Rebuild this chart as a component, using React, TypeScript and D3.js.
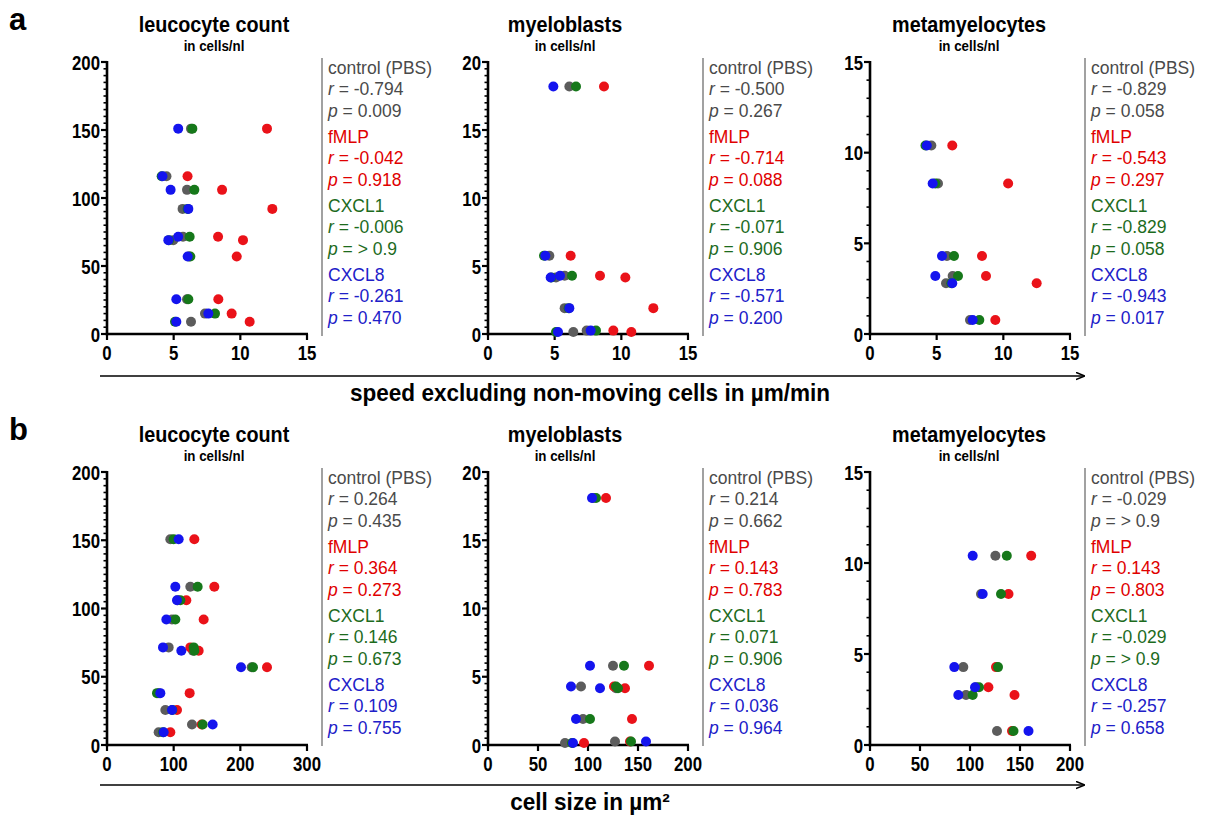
import React from "react";
import * as d3 from "d3";

// ---------- data ----------
const groupNames = ["control (PBS)", "fMLP", "CXCL1", "CXCL8"];
const dotColors = ["#5c5c5c", "#ea1219", "#16781a", "#1414ee"];
const textColors = ["#4a4a4a", "#e00000", "#1d6b1d", "#2020c8"];

// row a: speed excluding non-moving cells (µm/min)
const leucoA = [151, 116, 106, 92, 71.5, 69, 57, 25.5, 15, 9];
const leucoA_control = [6.3, 4.46, 6.0, 5.67, 5.7, 4.97, 6.15, 6.0, 7.35, 6.3];
const leucoA_fMLP = [12.0, 6.04, 8.63, 12.4, 8.33, 10.2, 9.73, 8.35, 9.35, 10.7];
const leucoA_CXCL1 = [6.4, 4.1, 6.55, 6.05, 6.2, 4.65, 6.25, 6.1, 8.1, 5.1];
const leucoA_CXCL8 = [5.34, 4.16, 4.77, 6.1, 5.34, 4.6, 6.05, 5.2, 7.6, 5.2];

const myeloA = [18.2, 5.75, 4.28, 4.16, 1.9, 0.25, 0.15];
const myeloA_control = [6.1, 4.6, 5.75, 5.1, 5.75, 7.4, 6.4];
const myeloA_fMLP = [8.7, 6.2, 8.4, 10.3, 12.4, 9.4, 10.75];
const myeloA_CXCL1 = [6.6, 4.2, 6.3, 4.75, 6.05, 8.1, 5.1];
const myeloA_CXCL8 = [4.9, 4.3, 5.4, 4.7, 6.1, 7.7, 5.25];

const metaA = [10.4, 8.3, 4.3, 3.2, 2.8, 0.77];
const metaA_control = [4.6, 5.1, 5.77, 6.2, 5.7, 7.5];
const metaA_fMLP = [6.17, 10.36, 8.4, 8.7, 12.5, 9.4];
const metaA_CXCL1 = [4.16, 4.9, 6.3, 6.6, 6.1, 8.2];
const metaA_CXCL8 = [4.26, 4.7, 5.4, 4.9, 6.17, 7.7];

// row b: cell size (µm²)
const leucoB = [150.7, 115.9, 106, 92, 71.5, 69, 57, 38, 25.6, 15, 9.3];
const leucoB_control = [95, 125, 106, 97.5, 92.5, 129, 217, 78, 87.5, 127.5, 77.5];
const leucoB_fMLP = [131, 161, 119, 145, 125, 137.5, 240, 124, 105, 142, 95];
const leucoB_CXCL1 = [100, 136, 110, 102.5, 130, 131, 219, 75, 98, 143.5, 84];
const leucoB_CXCL8 = [107.5, 102.5, 105, 89, 84, 111.5, 201, 80, 97.5, 158.5, 85];

const myeloB = [18.1, 5.8, 4.28, 4.16, 1.9, 0.25, 0.15];
const myeloB_control = [105, 125, 93, 128, 95, 127, 77];
const myeloB_fMLP = [118, 161, 126, 137, 144, 142, 96];
const myeloB_CXCL1 = [108, 136, 128, 130, 102, 143, 84];
const myeloB_CXCL8 = [104, 102, 83, 112, 88, 158, 85];

const metaB = [10.4, 8.3, 4.28, 3.17, 2.75, 0.77];
const metaB_control = [125.4, 111, 93.3, 106, 96, 127];
const metaB_fMLP = [161.2, 138.5, 126, 118.4, 144.5, 142];
const metaB_CXCL1 = [136.8, 131, 128, 109, 102.7, 143.5];
const metaB_CXCL8 = [102.7, 112.7, 84.3, 105, 88.3, 158.5];

// correlation statistics [r, p] per group
const statsLeucoA = [["-0.794", "0.009"], ["-0.042", "0.918"], ["-0.006", "> 0.9"], ["-0.261", "0.470"]];
const statsMyeloA = [["-0.500", "0.267"], ["-0.714", "0.088"], ["-0.071", "0.906"], ["-0.571", "0.200"]];
const statsMetaA = [["-0.829", "0.058"], ["-0.543", "0.297"], ["-0.829", "0.058"], ["-0.943", "0.017"]];
const statsLeucoB = [["0.264", "0.435"], ["0.364", "0.273"], ["0.146", "0.673"], ["0.109", "0.755"]];
const statsMyeloB = [["0.214", "0.662"], ["0.143", "0.783"], ["0.071", "0.906"], ["0.036", "0.964"]];
const statsMetaB = [["-0.029", "> 0.9"], ["0.143", "0.803"], ["-0.029", "> 0.9"], ["-0.257", "0.658"]];

const titles = ["leucocyte count", "myeloblasts", "metamyelocytes"];
const subtitle = "in cells/nl";
const rowLabels = ["a", "b"];
const rowAxisLabels = ["speed excluding non-moving cells in µm/min", "cell size in µm²"];

// ---------- layout ----------
const W = 1206;
const H = 816;
const colX = [107, 488, 870];
const titleCX = [214, 565, 969];
const plotW = 200;
const rowTop = [62, 472];
const rowBottom = [334, 745];
const rowShift = [0, 410];

const sans = "'Liberation Sans', Arial, sans-serif";

type Panel = {
  row: number;
  col: number;
  yMax: number;
  yMajor: number;
  yMinor: number;
  xMax: number;
  xMajor: number;
  cnt: number[];
  xs: number[][];
  stats: string[][];
};

const panels: Panel[] = [
  { row: 0, col: 0, yMax: 200, yMajor: 50, yMinor: 5, xMax: 15, xMajor: 5, cnt: leucoA,
    xs: [leucoA_control, leucoA_fMLP, leucoA_CXCL1, leucoA_CXCL8], stats: statsLeucoA },
  { row: 0, col: 1, yMax: 20, yMajor: 5, yMinor: 0.5, xMax: 15, xMajor: 5, cnt: myeloA,
    xs: [myeloA_control, myeloA_fMLP, myeloA_CXCL1, myeloA_CXCL8], stats: statsMyeloA },
  { row: 0, col: 2, yMax: 15, yMajor: 5, yMinor: 1, xMax: 15, xMajor: 5, cnt: metaA,
    xs: [metaA_control, metaA_fMLP, metaA_CXCL1, metaA_CXCL8], stats: statsMetaA },
  { row: 1, col: 0, yMax: 200, yMajor: 50, yMinor: 5, xMax: 300, xMajor: 100, cnt: leucoB,
    xs: [leucoB_control, leucoB_fMLP, leucoB_CXCL1, leucoB_CXCL8], stats: statsLeucoB },
  { row: 1, col: 1, yMax: 20, yMajor: 5, yMinor: 0.5, xMax: 200, xMajor: 50, cnt: myeloB,
    xs: [myeloB_control, myeloB_fMLP, myeloB_CXCL1, myeloB_CXCL8], stats: statsMyeloB },
  { row: 1, col: 2, yMax: 15, yMajor: 5, yMinor: 1, xMax: 200, xMajor: 50, cnt: metaB,
    xs: [metaB_control, metaB_fMLP, metaB_CXCL1, metaB_CXCL8], stats: statsMetaB },
];

// condensed bold text (narrow font emulated by horizontal scaling)
function CText(props: {
  x: number; y: number; size: number; sx: number; anchor?: string; children: React.ReactNode;
}) {
  const { x, y, size, sx, anchor, children } = props;
  return (
    <text
      transform={`translate(${x},${y}) scale(${sx},1)`}
      textAnchor={anchor || "start"}
      fontFamily={sans}
      fontWeight="bold"
      fontSize={size}
      fill="#000"
    >
      {children}
    </text>
  );
}

function PanelView({ p }: { p: Panel }) {
  const x0 = colX[p.col];
  const top = rowTop[p.row];
  const bottom = rowBottom[p.row];
  const x = d3.scaleLinear().domain([0, p.xMax]).range([x0, x0 + plotW]);
  const y = d3.scaleLinear().domain([0, p.yMax]).range([bottom, top]);
  const yMajors = d3.range(0, p.yMax + 1e-9, p.yMajor);
  const yMinors = d3.range(0, p.yMax + 1e-9, p.yMinor).filter(
    (v) => Math.abs(v / p.yMajor - Math.round(v / p.yMajor)) > 1e-6
  );
  const xMajors = d3.range(0, p.xMax + 1e-9, p.xMajor);
  const legX = x0 + 215;
  const shift = rowShift[p.row];
  const groupStart = [68, 137, 206, 275];
  return (
    <g>
      {/* axes */}
      <line x1={x0} x2={x0} y1={top - 1} y2={bottom + 1.2} stroke="#000" strokeWidth={2.6} />
      <line x1={x0 - 1.2} x2={x0 + plotW + 1} y1={bottom} y2={bottom} stroke="#000" strokeWidth={2.6} />
      {yMajors.map((v) => (
        <g key={"ym" + v}>
          <line x1={x0 - 6} x2={x0} y1={y(v)} y2={y(v)} stroke="#000" strokeWidth={2.2} />
          <CText x={x0 - 7} y={y(v) + 7.5} size={21} sx={0.8} anchor="end">
            {String(v)}
          </CText>
        </g>
      ))}
      {yMinors.map((v) => (
        <line key={"yn" + v} x1={x0 - 3.5} x2={x0} y1={y(v)} y2={y(v)} stroke="#000" strokeWidth={1.6} />
      ))}
      {xMajors.map((v) => (
        <g key={"xm" + v}>
          <line x1={x(v)} x2={x(v)} y1={bottom} y2={bottom + 6} stroke="#000" strokeWidth={2.2} />
          <CText x={x(v)} y={bottom + 26} size={21} sx={0.8} anchor="middle">
            {String(v)}
          </CText>
        </g>
      ))}
      {/* points: grey, red, green, blue */}
      {p.xs.map((vals, gi) => (
        <g key={"g" + gi}>
          {vals.map((v, i) => (
            <circle key={i} cx={x(v)} cy={y(p.cnt[i])} r={5} fill={dotColors[gi]} />
          ))}
        </g>
      ))}
      {/* legend */}
      <line x1={legX} x2={legX} y1={58 + shift} y2={336 + shift} stroke="#8a8a8a" strokeWidth={1.6} />
      {groupNames.map((name, gi) => {
        const c = groupStart[gi] + shift;
        return (
          <g key={"l" + gi} fill={textColors[gi]} fontFamily={sans} fontSize={17.5}>
            <text x={legX + 6} y={c + 6}>{name}</text>
            <text x={legX + 6} y={c + 27}>
              <tspan fontStyle="italic">r</tspan>
              {" = " + p.stats[gi][0]}
            </text>
            <text x={legX + 6} y={c + 49}>
              <tspan fontStyle="italic">p</tspan>
              {" = " + p.stats[gi][1]}
            </text>
          </g>
        );
      })}
      {/* title */}
      <CText x={titleCX[p.col]} y={32 + shift} size={22} sx={0.9} anchor="middle">
        {titles[p.col]}
      </CText>
      <CText x={titleCX[p.col]} y={51 + shift} size={14.5} sx={0.92} anchor="middle">
        {subtitle}
      </CText>
    </g>
  );
}

export default function App() {
  const arrowY = [376, 785];
  return (
    <svg
      width={W}
      height={H}
      viewBox={`0 0 ${W} ${H}`}
      style={{ position: "absolute", left: 0, top: 0, background: "#fff" }}
    >
      <defs>
        <marker id="arrowHead" viewBox="0 0 10 10" refX="9" refY="5" markerWidth="9" markerHeight="9" orient="auto" markerUnits="userSpaceOnUse">
          <path d="M0,1 L10,5 L0,9" fill="none" stroke="#000" strokeWidth={1.8} />
        </marker>
      </defs>
      <rect x={0} y={0} width={W} height={H} fill="#fff" />
      {rowLabels.map((l, i) => (
        <text key={l} x={9} y={30 + rowShift[i]} fontFamily={sans} fontWeight="bold" fontSize={31}>
          {l}
        </text>
      ))}
      {panels.map((p, i) => (
        <PanelView key={i} p={p} />
      ))}
      {rowAxisLabels.map((lab, i) => (
        <g key={"ax" + i}>
          <line x1={100} x2={1084} y1={arrowY[i]} y2={arrowY[i]} stroke="#000" strokeWidth={1.6} markerEnd="url(#arrowHead)" />
          <CText x={590} y={arrowY[i] + 25} size={23} sx={0.98} anchor="middle">
            {lab}
          </CText>
        </g>
      ))}
    </svg>
  );
}
